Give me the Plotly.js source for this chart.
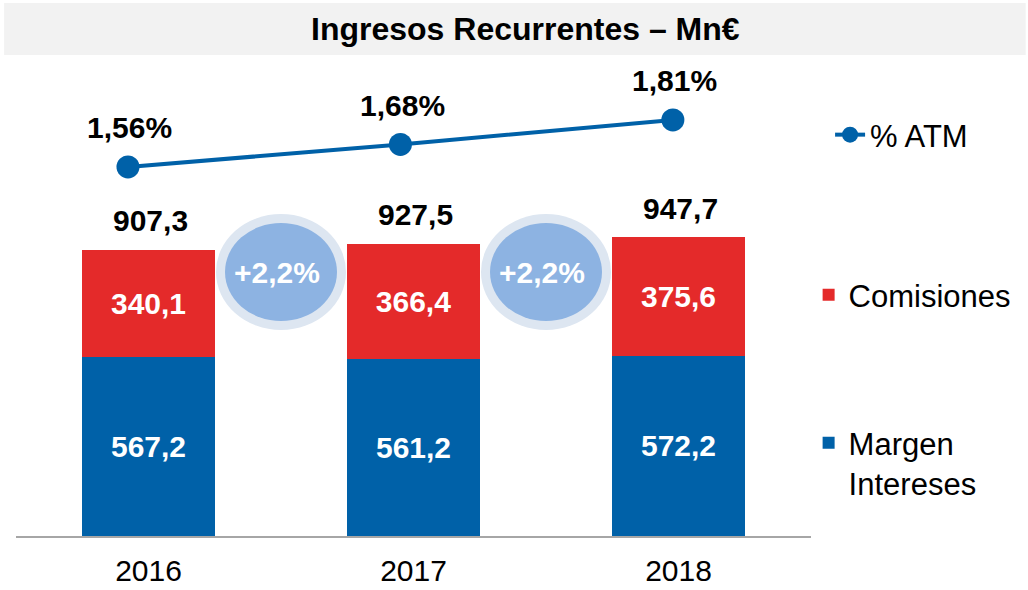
<!DOCTYPE html>
<html>
<head>
<meta charset="utf-8">
<script src="https://cdn.plot.ly/plotly-3.0.1.min.js"></script>
<style>html,body{margin:0;padding:0;background:#fff;}#chart{width:1028px;height:590px;}</style>
</head>
<body>
<div id="chart"></div>
<script>
// ---- data ----
var years = ['2016', '2017', '2018'];
var margenIntereses = [567.2, 561.2, 572.2];
var comisiones = [340.1, 366.4, 375.6];
var totales = [907.3, 927.5, 947.7];
var atm = [1.56, 1.68, 1.81];
var crecimiento = ['+2,2%', '+2,2%'];

var FONT = 'Liberation Sans, Arial, sans-serif';
var BLUE = '#0061a8';
var RED = '#e42a2a';

var traces = [
  {
    type: 'bar', name: 'Margen<br>Intereses', x: years, y: margenIntereses,
    marker: {color: BLUE}, legend: 'legend3',
    texttemplate: '%{y:.1f}', textposition: 'inside', insidetextanchor: 'middle',
    textfont: {family: FONT, size: 30, color: '#ffffff', weight: 700},
    constraintext: 'none', hoverinfo: 'skip'
  },
  {
    type: 'bar', name: 'Comisiones', x: years, y: comisiones,
    marker: {color: RED}, legend: 'legend2',
    texttemplate: '%{y:.1f}', textposition: 'inside', insidetextanchor: 'middle',
    textfont: {family: FONT, size: 30, color: '#ffffff', weight: 700},
    constraintext: 'none', hoverinfo: 'skip'
  },
  {
    type: 'scatter', mode: 'lines+markers', name: '% ATM', x: years, y: atm,
    xaxis: 'x2', yaxis: 'y2', legend: 'legend',
    line: {color: BLUE, width: 4}, marker: {color: BLUE, size: 23},
    hoverinfo: 'skip'
  }
];

var annotations = [];
years.forEach(function (yr, i) {
  // category axes: position by category index
  annotations.push({
    x: i, y: totales[i], xref: 'x', yref: 'y',
    text: totales[i].toFixed(1).replace('.', ','), showarrow: false,
    xanchor: 'center', yanchor: 'middle', yshift: 29, xshift: 2,
    font: {family: FONT, size: 30, color: '#000', weight: 700}
  });
  annotations.push({
    x: i, y: atm[i], xref: 'x2', yref: 'y2',
    text: atm[i].toFixed(2).replace('.', ',') + '%', showarrow: false,
    xanchor: 'center', yanchor: 'middle', yshift: 39, xshift: 2,
    font: {family: FONT, size: 30, color: '#000', weight: 700}
  });
});

var shapes = [
  {type: 'rect', xref: 'paper', yref: 'paper', x0: -0.015, x1: 1.27, y0: 1.0105, y1: 1.12,
   fillcolor: '#f2f2f2', line: {width: 0}, layer: 'below'}
];
var badgeY = (536 - 272) / 476;
crecimiento.forEach(function (txt, i) {
  var cx = (i + 1) / years.length;   // gap between consecutive bars, in paper units
  shapes.push({type: 'circle', xref: 'paper', yref: 'paper', xsizemode: 'pixel', ysizemode: 'pixel',
    xanchor: cx, yanchor: badgeY, x0: -65, x1: 65, y0: -58, y1: 58,
    fillcolor: '#dde6f1', line: {width: 0}});
  shapes.push({type: 'circle', xref: 'paper', yref: 'paper', xsizemode: 'pixel', ysizemode: 'pixel',
    xanchor: cx, yanchor: badgeY, x0: -56, x1: 56, y0: -49, y1: 49,
    fillcolor: '#8db3e2', line: {width: 0}});
  annotations.push({x: cx, y: badgeY, xref: 'paper', yref: 'paper', text: txt, showarrow: false,
    xanchor: 'center', yanchor: 'middle', xshift: -4,
    font: {family: FONT, size: 30, color: '#ffffff', weight: 700}});
});

var legendFont = {family: FONT, size: 31, color: '#000'};
var layout = {
  width: 1028, height: 590,
  margin: {l: 16, r: 214, t: 60, b: 54},
  paper_bgcolor: '#ffffff', plot_bgcolor: '#ffffff',
  separators: ',.',
  barmode: 'stack', bargap: 0.5,
  hovermode: false,
  font: {family: FONT, color: '#000'},
  title: {text: 'Ingresos Recurrentes – Mn€', x: 0.511, xanchor: 'center', y: 0.951, yanchor: 'middle',
    font: {family: FONT, size: 32, color: '#000', weight: 700}},
  xaxis: {type: 'category', range: [-0.5, 2.5], showline: true, linecolor: '#a6a6a6', linewidth: 1.5,
    showgrid: false, zeroline: false, ticks: '', ticklabelstandoff: 7,
    tickfont: {family: FONT, size: 30, color: '#000'}},
  yaxis: {range: [0, 1510], visible: false, showgrid: false, zeroline: false},
  xaxis2: {type: 'category', overlaying: 'x', range: [-0.411, 2.507], visible: false},
  yaxis2: {overlaying: 'y', range: [-0.403, 2.129], visible: false, anchor: 'x2'},
  legend: {x: 1.024, xanchor: 'left', y: (536 - 135) / 476, yanchor: 'middle',
    font: legendFont, bgcolor: 'rgba(0,0,0,0)'},
  legend2: {x: 0.997, xanchor: 'left', y: (536 - 295) / 476, yanchor: 'middle',
    font: legendFont, bgcolor: 'rgba(0,0,0,0)'},
  legend3: {x: 0.997, xanchor: 'left', y: (536 - 463) / 476, yanchor: 'middle',
    font: legendFont, bgcolor: 'rgba(0,0,0,0)', valign: 'top'},
  shapes: shapes,
  annotations: annotations,
  showlegend: true
};

Plotly.newPlot('chart', traces, layout, {displayModeBar: false, staticPlot: true});
</script>
</body>
</html>
